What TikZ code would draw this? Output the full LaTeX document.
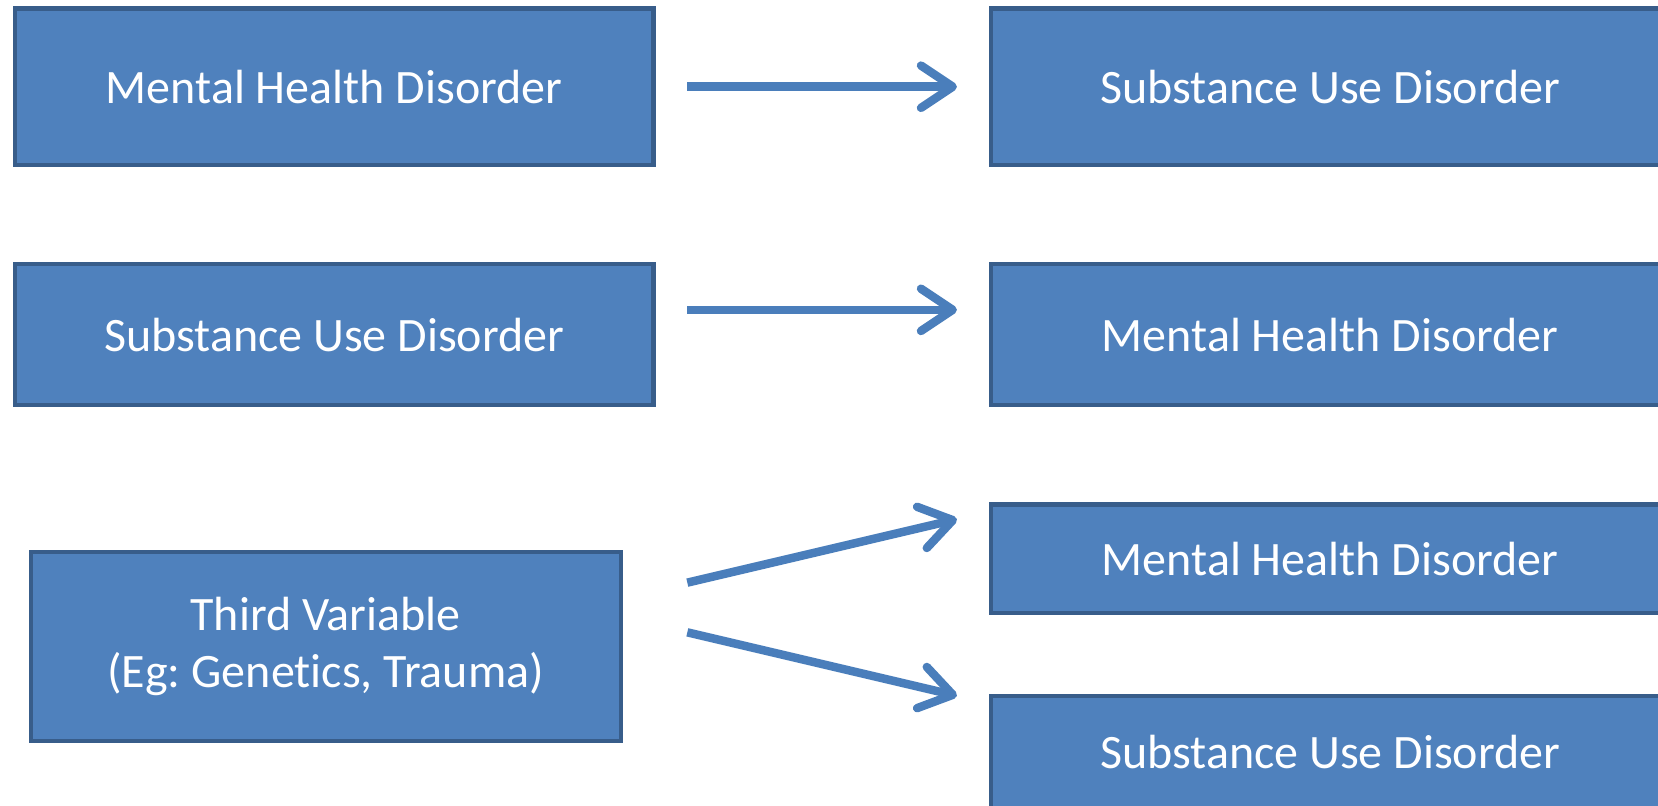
\documentclass[tikz,border=0pt]{standalone}
\usepackage{fontspec}
\setmainfont{Carlito}[Ligatures=NoCommon]
\usetikzlibrary{arrows.meta}
\definecolor{boxblue}{HTML}{4F81BD}
\definecolor{boxline}{HTML}{385D8A}
\definecolor{arrowblue}{HTML}{4A7EBB}
\newcommand{\rtext}[1]{\makebox[331.5pt][l]{\makebox[321pt]{#1}}}

\begin{document}
\begin{tikzpicture}[x=0.5pt, y=-0.5pt,
		box/.style={rectangle, draw=boxline, fill=boxblue, line width=2pt, text=white, font=\fontsize{22.7}{27}\selectfont\frenchspacing, inner sep=0pt, align=center},
		rbox/.style={box, anchor=west},
		link/.style={arrowblue, line width=4pt, -{Straight Barb[length=15pt,width=20pt,round]}}]
				\useasboundingbox (0,0) rectangle (1568,762);
				\clip (0,0) rectangle (1568,762);
				% mental health first
				\node[box, minimum width=302pt, minimum height=74pt] (MH1) at (316,82) {Mental Health Disorder};
				\node[rbox, minimum height=74pt] (SU1) at (935,82) {\rtext{Substance Use Disorder}};
				% substance use first
				\node[box, minimum width=302pt, minimum height=66.5pt] (SU2) at (316,316.5) {Substance Use Disorder};
				\node[rbox, minimum height=66.5pt] (MH2) at (935,316.5) {\rtext{Mental Health Disorder}};
				% third variable
				\node[box, minimum width=279pt, minimum height=89.5pt] (TV) at (308,611.5) {Third Variable\\(Eg: Genetics, Trauma)};
				\node[rbox, minimum height=51.5pt] (MH3) at (935,528.5) {\rtext{Mental Health Disorder}};
				\node[rbox, minimum height=53pt] (SU3) at (935,711) {\rtext{Substance Use Disorder}};
				
				\coordinate (a1s) at (650,82);  \coordinate (a1e) at (905,82);
				\coordinate (a2s) at (650,293); \coordinate (a2e) at (905,293);
				\coordinate (a3s) at (650,551); \coordinate (a3e) at (905,491);
				\coordinate (a4s) at (650,598); \coordinate (a4e) at (905,658);
				\draw[link] (a1s) -- (a1e);
				\draw[link] (a2s) -- (a2e);
				\draw[link] (a3s) -- (a3e);
				\draw[link] (a4s) -- (a4e);
			\end{tikzpicture}
\end{document}
